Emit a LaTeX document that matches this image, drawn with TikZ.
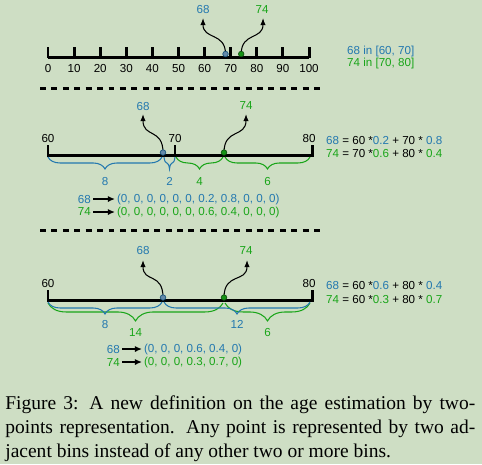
\documentclass[tikz,border=0pt]{standalone}
\usepackage{fontspec}
\setmainfont{Liberation Serif}
\newfontfamily\diagfont{Liberation Sans}
\usetikzlibrary{arrows.meta,decorations.pathreplacing}
\definecolor{bgcol}{RGB}{206,222,196}
\definecolor{cblue}{RGB}{35,120,175}
\definecolor{cgreen}{RGB}{25,165,25}
\definecolor{ptblue}{RGB}{100,138,170}
\begin{document}
\begin{tikzpicture}[x=0.02cm,y=-0.02cm,line join=miter,
		font=\diagfont\fontsize{6.6}{8}\selectfont,
		axis/.style={line width=1.7pt},
		pointer/.style={line width=0.6pt,-{Latex[length=4pt,width=3pt]}},
		vecarrow/.style={line width=0.9pt,-{Latex[length=4pt,width=3.5pt]}},
		ptA/.style={fill=ptblue,draw=cblue!70!black,line width=0.4pt},
		ptB/.style={fill=cgreen!90!black,draw=cgreen!50!black,line width=0.4pt},
		bluebrace/.style={cblue,line width=0.6pt,decorate,decoration={brace,mirror,amplitude=6.8pt}},
		greenbrace/.style={cgreen,line width=0.6pt,decorate,decoration={brace,mirror,amplitude=6.8pt}},
		sep/.style={line width=1.7pt,dash pattern=on 3.4pt off 3.1pt},
		capline/.style={anchor=base west,inner sep=0pt,font=\rmfamily\fontsize{11.1}{13}\selectfont}]
	\fill[bgcol] (0,0) rectangle (482,464);
	
	% ruler 0..100
	\draw[axis] (48,57)--(309,57);
	\foreach \i [evaluate=\i as \lab using int(10*\i)] in {0,...,10}{
		\draw[axis] ({48+26.1*\i},47)--({48+26.1*\i},58);
		\node (r\i) at ({48+26.1*\i},69) {\lab};
	}
	\coordinate (a68) at (225.5,54);
	\coordinate (a74) at (241.2,54);
	\coordinate (ta68) at (203,18);
	\coordinate (ta74) at (263,18);
	\draw[pointer] (a68) .. controls (225.5,32) and (203,40) .. (ta68);
	\draw[pointer] (a74) .. controls (241.2,32) and (263,40) .. (ta74);
	\filldraw[ptA] (a68) circle[radius=0.055cm];
	\filldraw[ptB] (a74) circle[radius=0.055cm];
	\node[cblue] (la68) at (203,10) {68};
	\node[cgreen] (la74) at (262,10) {74};
	\node[cblue,anchor=west] (in68) at (341,51) {68 in [60, 70]};
	\node[cgreen,anchor=west] (in74) at (341,63) {74 in [70, 80]};
	
	\draw[sep] (40,88)--(320,88);
	
	% bins 60,70,80
	\draw[axis] (48,145)--(48,155)--(312,155)--(312,145);
	\draw[axis] (175,145)--(175,156);
	\node (b60) at (48,138) {60};
	\node (b70) at (175,138) {70};
	\node (b80) at (309,138) {80};
	\coordinate (b68) at (163,152.5);
	\coordinate (b74) at (224,152.5);
	\coordinate (tb68) at (143,114);
	\coordinate (tb74) at (246,114);
	\draw[pointer] (b68) .. controls (163,128) and (143,138) .. (tb68);
	\draw[pointer] (b74) .. controls (224,128) and (246,138) .. (tb74);
	\filldraw[ptA] (b68) circle[radius=0.055cm];
	\filldraw[ptB] (b74) circle[radius=0.055cm];
	\node[cblue] (lb68) at (143,106) {68};
	\node[cgreen] (lb74) at (246,106) {74};
	\draw[bluebrace] (48,157)--(162,157) node[midway,below=8pt,text=cblue] (d8) {8};
	\draw[bluebrace] (164,157)--(175,157) node[midway,below=8pt,text=cblue] (d2) {2};
	\draw[greenbrace] (176,157)--(223,157) node[midway,below=8pt,text=cgreen] (d4) {4};
	\draw[greenbrace] (225,157)--(310,157) node[midway,below=8pt,text=cgreen] (d6) {6};
	\node[anchor=west] (eb68) at (320,140) {\textcolor{cblue}{68} = 60 *\textcolor{cblue}{0.2} + 70 * \textcolor{cblue}{0.8}};
	\node[anchor=west] (eb74) at (320,153) {\textcolor{cgreen}{74} = 70 *\textcolor{cgreen}{0.6} + 80 * \textcolor{cgreen}{0.4}};
	\node[cblue,anchor=east,inner sep=1pt] (vb68) at (93,199) {68};
	\node[cblue,anchor=west,inner sep=1pt] (wb68) at (115,199) {(0, 0, 0, 0, 0, 0, 0.2, 0.8, 0, 0, 0)};
	\node[cgreen,anchor=east,inner sep=1pt] (vb74) at (93,212) {74};
	\node[cgreen,anchor=west,inner sep=1pt] (wb74) at (115,212) {(0, 0, 0, 0, 0, 0, 0.6, 0.4, 0, 0, 0)};
	\draw[vecarrow] (vb68)--(wb68);
	\draw[vecarrow] (vb74)--(wb74);
	
	\draw[sep] (40,230)--(320,230);
	
	% bins 60,80
	\draw[axis] (48,290)--(48,300)--(312,300)--(312,290);
	\node (c60) at (48,283) {60};
	\node (c80) at (309,283) {80};
	\coordinate (c68) at (163,297.5);
	\coordinate (c74) at (224,297.5);
	\coordinate (tc68) at (143,260);
	\coordinate (tc74) at (247,260);
	\draw[pointer] (c68) .. controls (163,272) and (143,283) .. (tc68);
	\draw[pointer] (c74) .. controls (224,272) and (247,283) .. (tc74);
	\node[cblue] (lc68) at (143,250) {68};
	\node[cgreen] (lc74) at (246,250) {74};
	\draw[greenbrace,decoration={amplitude=10.2pt}] (48,303)--(223,303) node[midway,below=11pt,text=cgreen] (d14) {14};
	\draw[greenbrace,decoration={amplitude=10.2pt}] (225,303)--(310,303) node[midway,below=11pt,text=cgreen] (e6) {6};
	\draw[bluebrace] (48,302)--(162,302) node[midway,below=7pt,text=cblue] (e8) {8};
	\draw[bluebrace] (164,302)--(310,302) node[midway,below=7pt,text=cblue] (d12) {12};
	\filldraw[ptA] (c68) circle[radius=0.055cm];
	\filldraw[ptB] (c74) circle[radius=0.055cm];
	\node[anchor=west] (ec68) at (320,285) {\textcolor{cblue}{68} = 60 *\textcolor{cblue}{0.6} + 80 * \textcolor{cblue}{0.4}};
	\node[anchor=west] (ec74) at (320,299) {\textcolor{cgreen}{74} = 60 *\textcolor{cgreen}{0.3} + 80 * \textcolor{cgreen}{0.7}};
	\node[cblue,anchor=east,inner sep=1pt] (vc68) at (122,349) {68};
	\node[cblue,anchor=west,inner sep=1pt] (wc68) at (142,349) {(0, 0, 0, 0.6, 0.4, 0)};
	\node[cgreen,anchor=east,inner sep=1pt] (vc74) at (122,362) {74};
	\node[cgreen,anchor=west,inner sep=1pt] (wc74) at (142,362) {(0, 0, 0, 0.3, 0.7, 0)};
	\draw[vecarrow] (vc68)--(wc68);
	\draw[vecarrow] (vc74)--(wc74);
	
	% caption
	\node[capline] (cap1) at (5,409) {\makebox[9.4cm][s]{Figure 3: A new definition on the age estimation by two-}};
	\node[capline] (cap2) at (5,433) {\makebox[9.4cm][s]{points representation. Any point is represented by two ad-}};
	\node[capline] (cap3) at (5,457) {jacent bins instead of any other two or more bins.};
\end{tikzpicture}
\end{document}
